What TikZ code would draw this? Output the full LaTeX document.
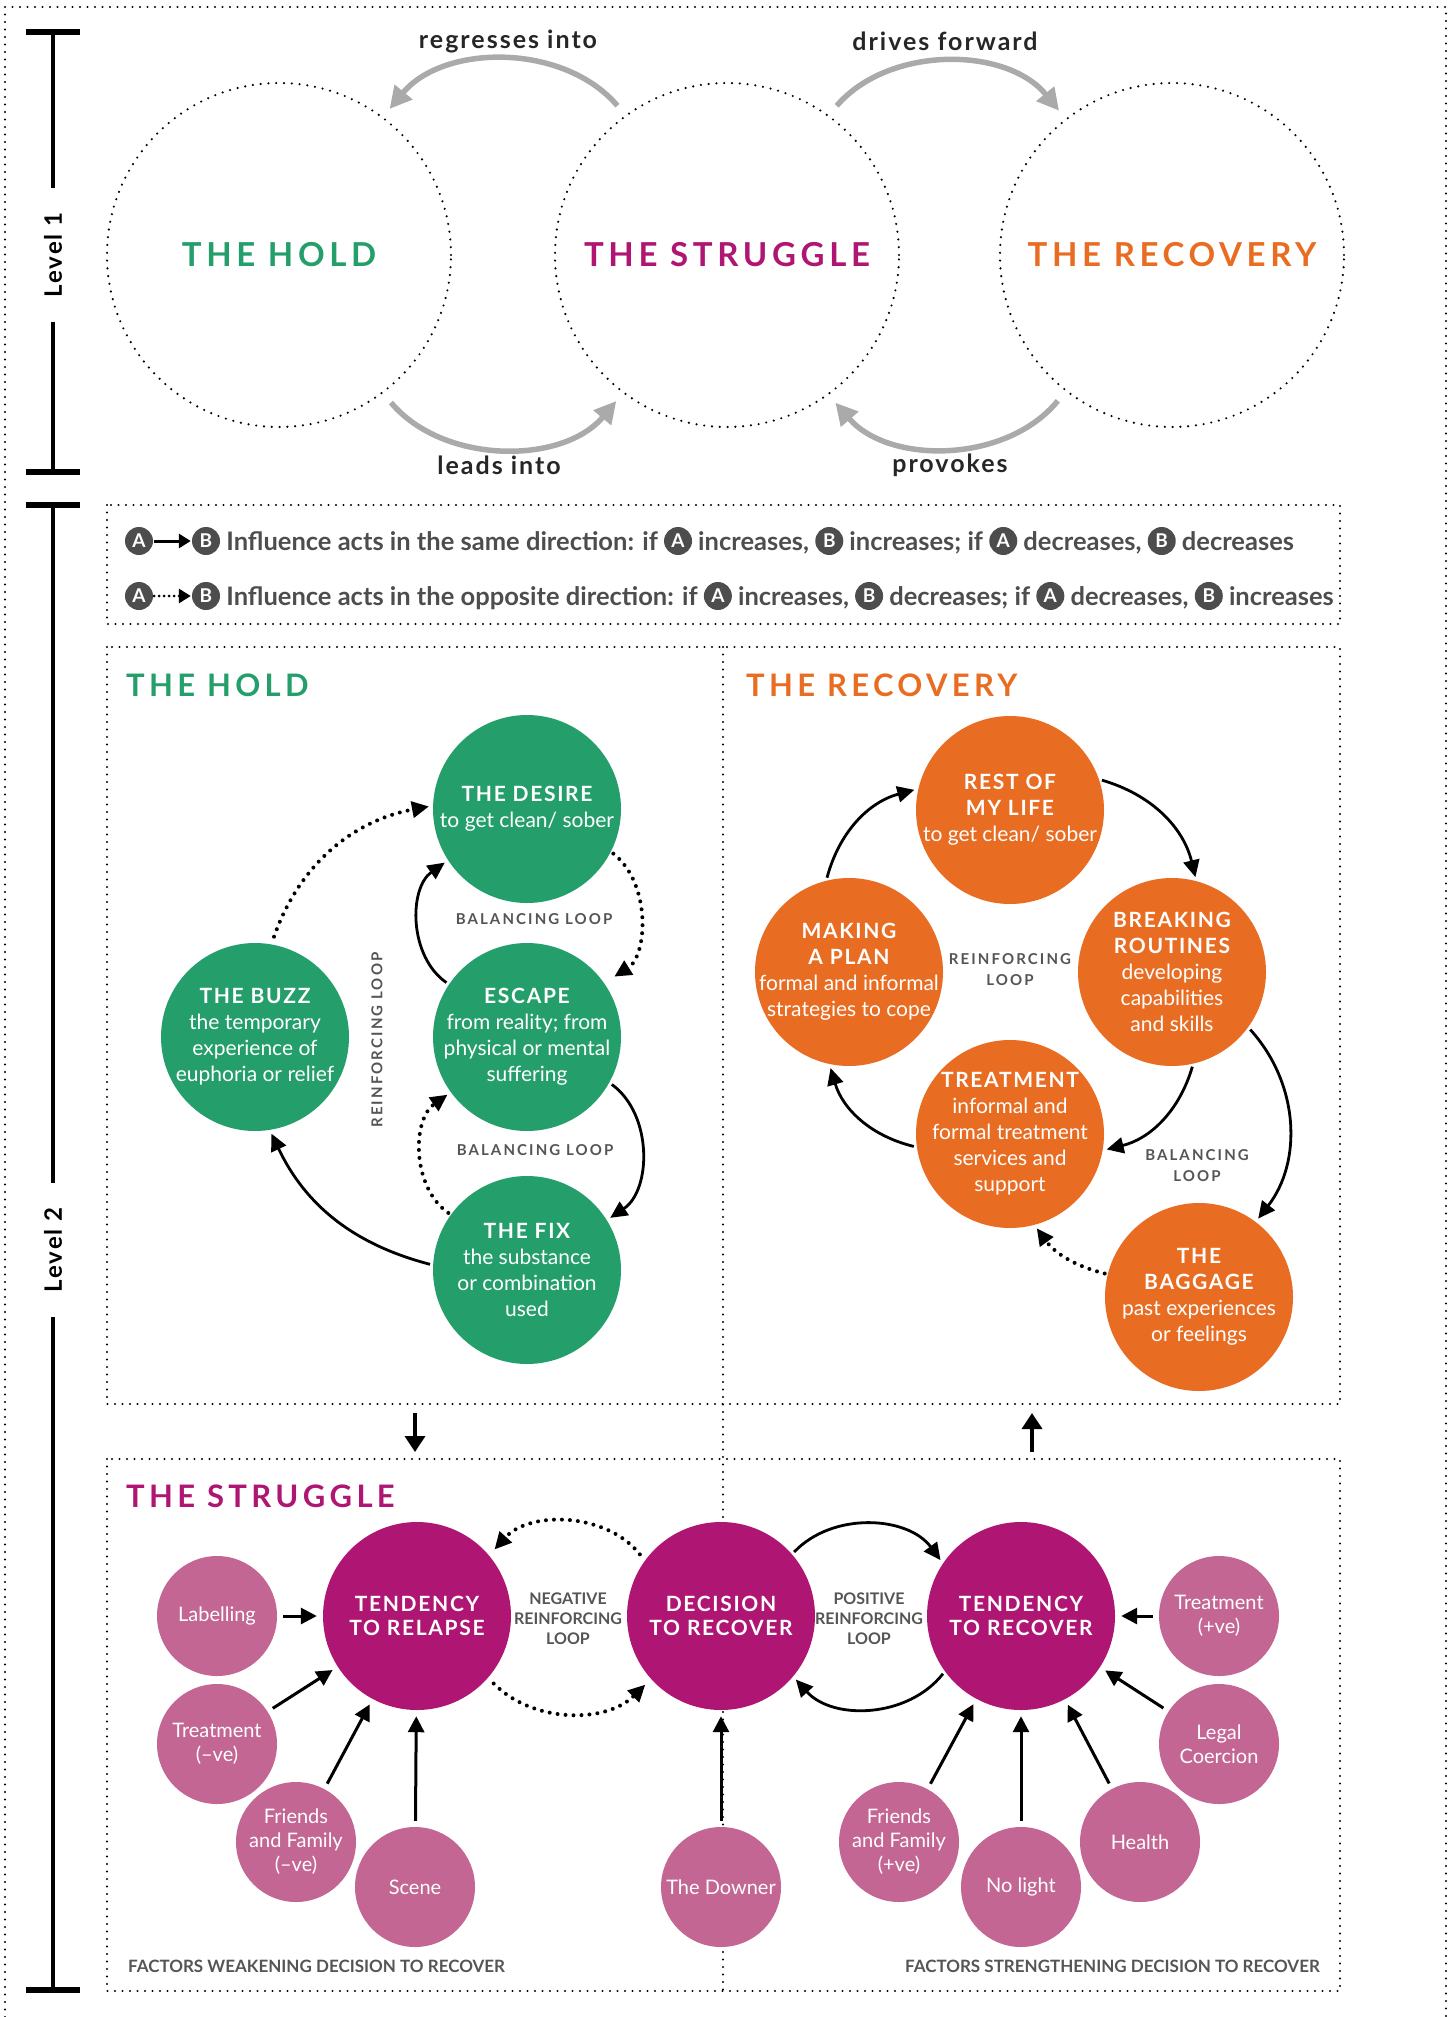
\documentclass[tikz,border=0pt]{standalone}
\usepackage{fontspec}
\setmainfont{Lato}
\newfontfamily\trackedfont[LetterSpace=8]{Lato}
\newfontfamily\widefont[LetterSpace=14]{Lato}
\usetikzlibrary{arrows.meta,positioning}

\definecolor{holdgreen}{HTML}{249E6A}
\definecolor{struggleplum}{HTML}{AF1673}
\definecolor{recoveryorange}{HTML}{E86D23}
\definecolor{factorpink}{HTML}{C36693}
\definecolor{ringgrey}{HTML}{AAAAAA}
\definecolor{loopgrey}{HTML}{555555}
\definecolor{badgegrey}{HTML}{4D4D4D}

\newcommand{\circtitle}{\trackedfont\bfseries\fontsize{21}{26}\selectfont}
% circled letter inside the legend sentences
\newcommand{\letterbadge}[1]{\tikz[baseline={([yshift=-0.36em]lb.center)}]\node[circle,fill=badgegrey,text=white,inner sep=0pt,minimum size=28pt,font=\bfseries\fontsize{19}{19}\selectfont] (lb) {#1};}

\begin{document}
\begin{tikzpicture}[x=1pt, y=-1pt,
    frame/.style={line width=2.2pt, dash pattern=on 0pt off 7.5pt, line cap=round},
    stagering/.style={circle, draw, line width=2.4pt, dash pattern=on 0pt off 7.8pt, line cap=round, minimum size=344pt, inner sep=0pt, font=\widefont\bfseries\fontsize{33}{33}\selectfont},
    greyarrow/.style={draw=ringgrey, line width=5.5pt, -{Triangle[length=22pt,width=22pt]}, shorten <=12pt, shorten >=10pt},
    relabel/.style={text=black!85, font=\trackedfont\bfseries\fontsize{25}{25}\selectfont},
    levelbar/.style={line width=4pt},
    leveltick/.style={line width=6pt},
    levellabel/.style={rotate=90, inner xsep=24pt, font=\trackedfont\bfseries\fontsize{24}{24}\selectfont},
    paneltitle/.style={anchor=west, inner sep=0pt, font=\widefont\bfseries\fontsize{31}{31}\selectfont},
    loopnode/.style={circle, minimum size=188pt, inner sep=-16pt, text=white, align=center, font=\fontsize{21}{26}\selectfont},
    holdnode/.style={loopnode, fill=holdgreen},
    recnode/.style={loopnode, fill=recoveryorange},
    strugglenode/.style={loopnode, fill=struggleplum, font=\fontsize{20}{24}\selectfont},
    factor/.style={circle, fill=factorpink, minimum size=120pt, inner sep=0pt, text=white, align=center, font=\fontsize{20}{24}\selectfont},
    link/.style={line width=2.8pt, -{Triangle[length=17pt,width=16pt]}, shorten <=3pt, shorten >=4pt},
    dottedlink/.style={link, line width=4pt, dash pattern=on 0pt off 8pt, line cap=round},
    factorarrow/.style={line width=3pt, -{Triangle[length=16pt,width=16pt]}, shorten <=6pt, shorten >=6pt},
    panelarrow/.style={line width=3.5pt, -{Triangle[length=16pt,width=20pt]}},
    looplabel/.style={text=loopgrey, align=center, font=\widefont\bfseries\fontsize{15}{21}\selectfont},
    sidelabel/.style={text=loopgrey, align=center, font=\bfseries\fontsize{16}{20}\selectfont},
    footlabel/.style={text=loopgrey, inner sep=0pt, font=\bfseries\fontsize{17}{17}\selectfont},
    badgenode/.style={circle, fill=badgegrey, text=white, minimum size=28pt, inner sep=0pt, font=\bfseries\fontsize{19}{19}\selectfont},
    legendtext/.style={text=badgegrey, inner sep=0pt, font=\bfseries\fontsize{25.5}{25.5}\selectfont},
    legendarrow/.style={line width=3pt, -{Triangle[length=12pt,width=14pt]}, shorten <=1pt, shorten >=1pt}]

    \useasboundingbox (0,0) rectangle (1448,2017);

    % Frames
    \draw[frame] (5,2017) -- (5,7) -- (1446,7) -- (1446,2017);
    \draw[frame] (107,505) rectangle (1340,624);
    \draw[frame] (107,647) rectangle (1340,1404);
    \draw[frame] (107,1459) rectangle (1340,1991);
    \draw[frame] (723,647) -- (723,1991);

    % Level bars
    \foreach \lvl/\ltop/\lmid/\lbot/\ltxt in {one/32/255/472/Level 1, two/505/1250/1990/Level 2} {
        \node[levellabel] (level\lvl) at (53,\lmid) {\ltxt};
        \coordinate (\lvl top) at (53,\ltop);
        \coordinate (\lvl bot) at (53,\lbot);
        \draw[levelbar] (\lvl top) -- (level\lvl);
        \draw[levelbar] (level\lvl) -- (\lvl bot);
        \draw[leveltick] ([xshift=-27pt]\lvl top) -- ([xshift=27pt]\lvl top);
        \draw[leveltick] ([xshift=-27pt]\lvl bot) -- ([xshift=27pt]\lvl bot);
    }

    % Level 1 stages
    \node[stagering, text=holdgreen] (hold) at (279,255) {THE HOLD};
    \node[stagering, text=struggleplum] (struggle) at (727,255) {THE STRUGGLE};
    \node[stagering, text=recoveryorange] (recovery) at (1172,255) {THE RECOVERY};

    \draw[greyarrow] (struggle.126) to[bend right=50] (hold.53);
    \draw[greyarrow] (struggle.54) to[bend left=50] (recovery.128);
    \draw[greyarrow] (hold.-53) to[bend right=50] (struggle.-127);
    \draw[greyarrow] (recovery.-128) to[bend left=50] (struggle.-54);

    \node[relabel] (regress) at (508,41) {regresses into};
    \node[relabel] (drives) at (945,41) {drives forward};
    \node[relabel] (leads) at (499,465) {leads into};
    \node[relabel] (provokes) at (950,465) {provokes};

    % Legend
    \node[badgenode] (sameA) at (139,541) {A};
    \node[badgenode] (sameB) at (206,541) {B};
    \draw[legendarrow] (sameA) -- (sameB);
    \node[legendtext, right=6pt of sameB] (sametext) {Influence acts in the same direction: if \letterbadge{A} increases, \letterbadge{B} increases; if \letterbadge{A} decreases, \letterbadge{B} decreases};

    \node[badgenode] (oppA) at (139,596) {A};
    \node[badgenode] (oppB) at (206,596) {B};
    \draw[legendarrow, dash pattern=on 0pt off 5pt, line cap=round] (oppA) -- (oppB);
    \node[legendtext, right=6pt of oppB] (opptext) {Influence acts in the opposite direction: if \letterbadge{A} increases, \letterbadge{B} decreases; if \letterbadge{A} decreases, \letterbadge{B} increases};

    % The hold
    \node[paneltitle, text=holdgreen] (holdtitle) at (126,685) {THE HOLD};
    \node[holdnode] (desire) at (527,809) {{\circtitle THE DESIRE}\\to get clean/ sober};
    \node[holdnode] (escape) at (527,1037) {{\circtitle ESCAPE}\\from reality; from\\physical or mental\\suffering};
    \node[holdnode] (fix) at (527,1270) {{\circtitle THE FIX}\\the substance\\or combination\\used};
    \node[holdnode] (buzz) at (255,1037) {{\circtitle THE BUZZ}\\the temporary\\experience of\\euphoria or relief};

    \draw[dottedlink, shorten <=8pt] (buzz.80) to[bend left=30] (desire.178);
    \draw[dottedlink, shorten >=12pt] (desire.-27) to[bend left=55] (escape.35);
    \draw[link] (escape.146) to[bend left=55] (desire.213);
    \draw[link] (escape.-29) to[bend left=55] (fix.32);
    \draw[dottedlink] (fix.144) to[bend left=55] (escape.216);
    \draw[link] (fix.177) to[bend left=25] (buzz.279);

    \node[looplabel] (balupper) at (534,919) {BALANCING LOOP};
    \node[looplabel] (ballower) at (535,1150) {BALANCING LOOP};
    \node[looplabel, rotate=90] (reinhold) at (377,1040) {REINFORCING LOOP};

    % The recovery
    \node[paneltitle, text=recoveryorange] (rectitle) at (746,685) {THE RECOVERY};
    \node[recnode] (rest) at (1010,810) {{\circtitle REST OF}\\{\circtitle MY LIFE}\\to get clean/ sober};
    \node[recnode] (plan) at (849,972) {{\circtitle MAKING}\\{\circtitle A PLAN}\\formal and informal\\strategies to cope};
    \node[recnode] (routines) at (1172,972) {{\circtitle BREAKING}\\{\circtitle ROUTINES}\\developing\\capabilities\\and skills};
    \node[recnode] (treatment) at (1010,1134) {{\circtitle TREATMENT}\\informal and\\formal treatment\\services and\\support};
    \node[recnode] (baggage) at (1199,1297) {{\circtitle THE}\\{\circtitle BAGGAGE}\\past experiences\\or feelings};

    \draw[link] (plan.104) to[bend left=30] (rest.167);
    \draw[link] (rest.19) to[bend left=30] (routines.75);
    \draw[link] (routines.-77) to[bend left=30] (treatment.-10);
    \draw[link] (treatment.188) to[bend left=30] (plan.258);
    \draw[link] (routines.-36) to[bend left=40] (baggage.53);
    \draw[dottedlink] (baggage.166) to[bend left=20] (treatment.285);

    \node[looplabel] (reinrec) at (1010,970) {REINFORCING\\LOOP};
    \node[looplabel] (balrec) at (1197,1166) {BALANCING\\LOOP};

    % Between the panels
    \coordinate (holdout) at (415,1413);
    \coordinate (strugglein) at (415,1452);
    \coordinate (struggleout) at (1032,1452);
    \coordinate (recin) at (1032,1413);
    \draw[panelarrow] (holdout) -- (strugglein);
    \draw[panelarrow] (struggleout) -- (recin);

    % The struggle
    \node[paneltitle, text=struggleplum] (struggletitle) at (126,1496) {THE STRUGGLE};
    \node[strugglenode] (relapse) at (417,1616) {{\circtitle TENDENCY}\\{\circtitle TO RELAPSE}};
    \node[strugglenode] (decision) at (721,1616) {{\circtitle DECISION}\\{\circtitle TO RECOVER}};
    \node[strugglenode] (tendency) at (1021,1616) {{\circtitle TENDENCY}\\{\circtitle TO RECOVER}};

    \draw[dottedlink, shorten <=8pt, shorten >=8pt] (decision.144) to[bend right=50] (relapse.40);
    \draw[dottedlink, shorten <=8pt, shorten >=8pt] (relapse.-41) to[bend right=45] (decision.-138);
    \draw[link] (decision.41) to[bend left=50] (tendency.146);
    \draw[link] (tendency.216) to[bend left=50] (decision.-40);

    \node[sidelabel] (negloop) at (568,1619) {NEGATIVE\\REINFORCING\\LOOP};
    \node[sidelabel] (posloop) at (869,1619) {POSITIVE\\REINFORCING\\LOOP};

    % Factors
    \foreach \name/\x/\y/\txt in {
        labelling/217/1616/Labelling,
        treatneg/217/1744/{Treatment\\(–ve)},
        friendsneg/296/1842/{Friends\\and Family\\(–ve)},
        scene/415/1887/Scene,
        downer/721/1887/The Downer,
        friendspos/899/1842/{Friends\\and Family\\(+ve)},
        nolight/1021/1887/No light,
        health/1140/1842/Health,
        legal/1219/1744/{Legal\\Coercion},
        treatpos/1219/1616/{Treatment\\(+ve)}} {
        \node[factor] (\name) at (\x,\y) {\txt};
    }

    \foreach \src/\dst in {labelling/relapse, treatneg/relapse, friendsneg/relapse, scene/relapse,
        downer/decision, friendspos/tendency, nolight/tendency, health/tendency, legal/tendency, treatpos/tendency} {
        \draw[factorarrow] (\src) -- (\dst);
    }

    \node[footlabel, anchor=west] (weaken) at (128,1966) {FACTORS WEAKENING DECISION TO RECOVER};
    \node[footlabel, anchor=east] (strengthen) at (1320,1966) {FACTORS STRENGTHENING DECISION TO RECOVER};

\end{tikzpicture}
\end{document}
